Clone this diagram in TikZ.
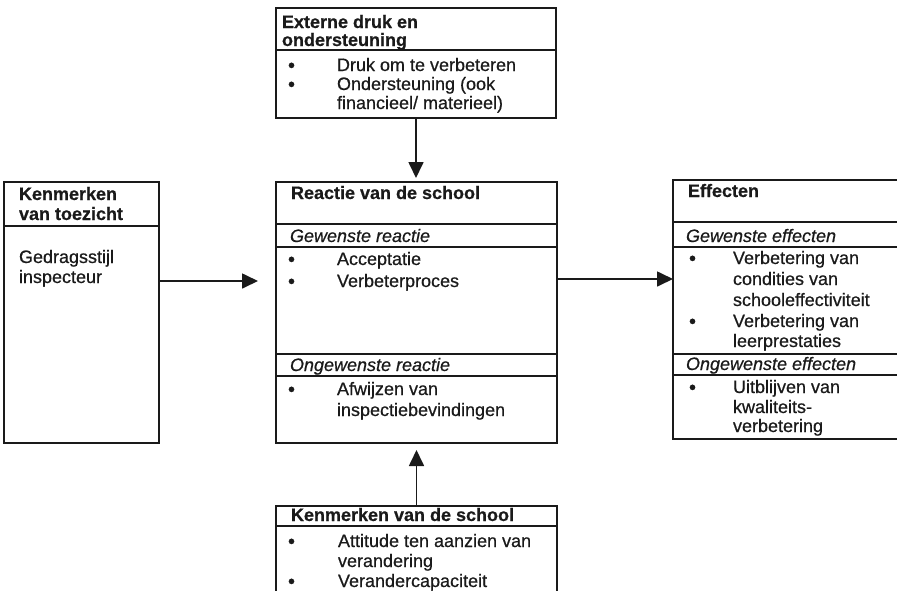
\documentclass[tikz,border=0pt]{standalone}
\usepackage{fontspec}
\setmainfont{Liberation Sans}[FakeBold=0.6]
\usetikzlibrary{arrows.meta}
\definecolor{ink}{HTML}{1A1A1A}
\begin{document}
\begin{tikzpicture}[x=1pt,y=-1pt,
  frame/.style={draw=ink, line width=1.3pt, inner sep=0pt, outer sep=0pt, anchor=north west},
  rule/.style={draw=ink, line width=1.3pt},
  arr/.style={draw=ink, line width=1.7pt, -{Triangle[length=16pt,width=15pt]}},
  txt/.style={anchor=base west, inner sep=0pt, outer sep=0pt, text=ink, font=\fontsize{18}{20}\selectfont},
  hd/.style={txt, font=\fontsize{18}{20}\selectfont\bfseries},
  emph/.style={txt, font=\fontsize{18}{20}\selectfont\itshape},
  dot/.style={txt, font=\fontsize{20}{20}\selectfont, yshift=-1pt}]
\clip (0,0) rectangle (897,590);
% boxes
\node[frame, minimum width=280pt, minimum height=110pt] (ext) at (276,8) {};
\node[frame, minimum width=155pt, minimum height=261pt] (kt) at (4,182) {};
\node[frame, minimum width=281pt, minimum height=261pt] (rs) at (276,182) {};
\node[frame, minimum width=250pt, minimum height=259pt] (ef) at (673,180) {};
\node[frame, minimum width=281pt, minimum height=120pt] (ks) at (276,506) {};
% dividers
\draw[rule] (ext.west |- 0,50) -- (ext.east |- 0,50);
\draw[rule] (kt.west |- 0,226) -- (kt.east |- 0,226);
\draw[rule] (rs.west |- 0,224) -- (rs.east |- 0,224);
\draw[rule] (rs.west |- 0,247) -- (rs.east |- 0,247);
\draw[rule] (rs.west |- 0,354) -- (rs.east |- 0,354);
\draw[rule] (rs.west |- 0,376) -- (rs.east |- 0,376);
\draw[rule] (ef.west |- 0,222) -- (ef.east |- 0,222);
\draw[rule] (ef.west |- 0,247) -- (ef.east |- 0,247);
\draw[rule] (ef.west |- 0,354) -- (ef.east |- 0,354);
\draw[rule] (ef.west |- 0,375) -- (ef.east |- 0,375);
\draw[rule] (ks.west |- 0,526) -- (ks.east |- 0,526);
% top box text
\node[hd] (e1) at (282,28) {Externe druk en};
\node[hd] (e2) at (282,46) {ondersteuning};
\node[dot] (eb1) at (288,71) {•};
\node[txt] (e3) at (337,71) {Druk om te verbeteren};
\node[dot] (eb2) at (288,90) {•};
\node[txt] (e4) at (337,90) {Ondersteuning (ook};
\node[txt] (e5) at (337,109) {financieel/ materieel)};
% left box text
\node[hd] (k1) at (19,200) {Kenmerken};
\node[hd] (k2) at (19,220) {van toezicht};
\node[txt] (k3) at (19,263) {Gedragsstijl};
\node[txt] (k4) at (19,283) {inspecteur};
% reaction box text
\node[hd] (r1) at (291,199) {Reactie van de school};
\node[emph] (r2) at (290,242) {Gewenste reactie};
\node[dot] (rb1) at (288,265) {•};
\node[txt] (r3) at (337,265) {Acceptatie};
\node[dot] (rb2) at (288,287) {•};
\node[txt] (r4) at (337,287) {Verbeterproces};
\node[emph] (r5) at (290,371) {Ongewenste reactie};
\node[dot] (rb3) at (288,395) {•};
\node[txt] (r6) at (337,395) {Afwijzen van};
\node[txt] (r7) at (337,416) {inspectiebevindingen};
% effects box text
\node[hd] (f1) at (688,197) {Effecten};
\node[emph] (f2) at (686,242) {Gewenste effecten};
\node[dot] (fb1) at (689,264) {•};
\node[txt] (f3) at (733,264) {Verbetering van};
\node[txt] (f4) at (733,285) {condities van};
\node[txt] (f5) at (733,306) {schooleffectiviteit};
\node[dot] (fb2) at (689,327) {•};
\node[txt] (f6) at (733,327) {Verbetering van};
\node[txt] (f7) at (733,347) {leerprestaties};
\node[emph] (f8) at (686,370) {Ongewenste effecten};
\node[dot] (fb3) at (689,393) {•};
\node[txt] (f9) at (733,393) {Uitblijven van};
\node[txt] (f10) at (733,413) {kwaliteits-};
\node[txt] (f11) at (733,432) {verbetering};
% bottom box text
\node[hd] (s1) at (291,521) {Kenmerken van de school};
\node[dot] (sb1) at (288,547) {•};
\node[txt] (s2) at (338,547) {Attitude ten aanzien van};
\node[txt] (s3) at (338,567) {verandering};
\node[dot] (sb2) at (288,587) {•};
\node[txt] (s4) at (338,587) {Verandercapaciteit};
% connectors
\coordinate (ya) at (0,281);
\coordinate (yb) at (0,279);
\draw[arr, shorten >=4pt] (ext.south) -- (ext.south |- rs.north);
\draw[arr, shorten >=7pt] (ks.north) -- (ks.north |- rs.south);
\draw[arr, shorten >=18pt] (kt.east |- ya) -- (rs.west |- ya);
\draw[arr] (rs.east |- yb) -- (ef.west |- yb);
\end{tikzpicture}
\end{document}
